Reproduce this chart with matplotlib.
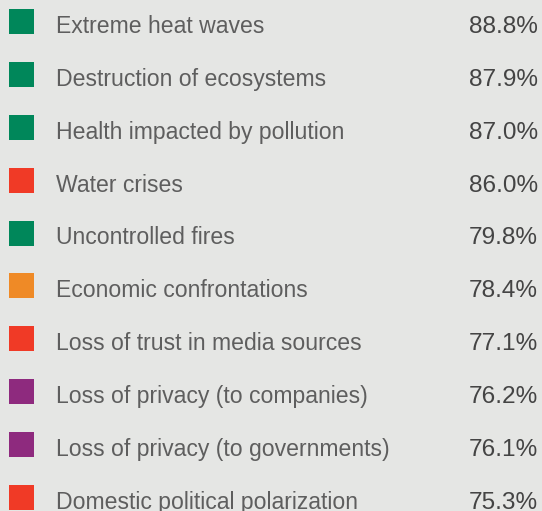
import matplotlib
matplotlib.use('Agg')
import matplotlib.pyplot as plt

labels = ['Extreme heat waves', 'Destruction of ecosystems', 'Health impacted by pollution',
          'Water crises', 'Uncontrolled fires', 'Economic confrontations',
          'Loss of trust in media sources', 'Loss of privacy (to companies)',
          'Loss of privacy (to governments)', 'Domestic political polarization']
values = [88.8, 87.9, 87.0, 86.0, 79.8, 78.4, 77.1, 76.2, 76.1, 75.3]
groups = ['env', 'env', 'env', 'soc', 'env', 'eco', 'soc', 'tech', 'tech', 'soc']

group_colors = {'env': '#00875a', 'soc': '#f03a26', 'eco': '#ef8a26', 'tech': '#8e2a7e'}
bg = '#e5e6e4'

fig = plt.figure(figsize=(5.42, 5.11), dpi=100, facecolor=bg)
ax = fig.add_axes([0, 0, 1, 1])
ax.set_facecolor(bg)
rows = list(range(len(labels)))
step = 52.9
ax.set_xlim(0, 542)
ax.set_ylim((511 - 21.5) / step, -21.5 / step)
ax.axis('off')

ax.barh(rows, [25] * len(rows), left=9, height=25 / step,
        color=[group_colors[g] for g in groups])
for r, lab, v in zip(rows, labels, values):
    ax.text(56, r + 0.215, lab, fontsize=16.6, family='Liberation Sans',
            color='#5e5e5e', va='baseline', ha='left')
    ax.text(538, r + 0.215, f'{v:.1f}%', fontsize=17.6, family='Liberation Sans',
            color='#444444', va='baseline', ha='right')

fig.savefig('out.png', dpi=100, facecolor=bg)
